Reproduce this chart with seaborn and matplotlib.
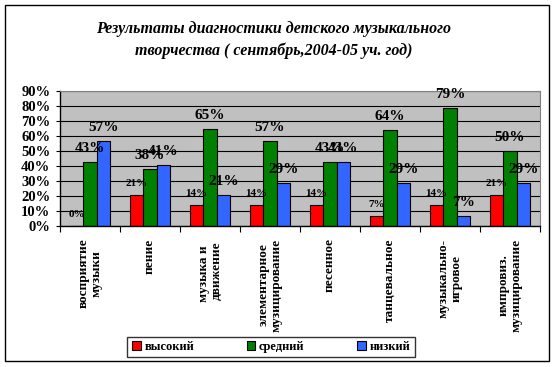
import matplotlib
matplotlib.use("Agg")
import matplotlib.pyplot as plt
import seaborn as sns
import pandas as pd
from matplotlib.patches import Rectangle, Patch
from matplotlib.ticker import FixedLocator, MultipleLocator

categories = ["восприятие\nмузыки", "пение", "музыка и  \nдвижение", "элементарное\nмузицирование",
              "песенное", "танцевальное", "музыкально-\nигровое", "импровиз.\nмузицирование"]
series = ["высокий", "средний", "низкий"]
high = [0, 21, 14, 14, 14, 7, 14, 21]
mid = [43, 38, 65, 57, 43, 64, 79, 50]
low = [57, 41, 21, 29, 43, 29, 7, 29]
colors = ["#FF0000", "#008000", "#3366FF"]
title = "Результаты диагностики детского музыкального\nтворчества ( сентябрь,2004-05 уч. год)"

rows = []
for s, vals in zip(series, [high, mid, low]):
    for c, v in zip(categories, vals):
        rows.append({"cat": c, "series": s, "value": v})
df = pd.DataFrame(rows)

sns.set_theme(style="white")
plt.rcParams['font.family'] = ['Liberation Serif', 'DejaVu Serif']
plt.rcParams['text.color'] = 'black'
plt.rcParams['xtick.color'] = 'black'
plt.rcParams['ytick.color'] = 'black'
plt.rcParams['axes.labelcolor'] = 'black'

fig = plt.figure(figsize=(5.55, 3.67), dpi=100)
ax = fig.add_axes([60/555, 1-226/367, 480/555, 135/367])
ax.set_facecolor("#C0C0C0")

sns.barplot(data=df, x="cat", y="value", hue="series", palette=colors, order=categories,
            hue_order=series, width=0.667, gap=0, edgecolor="black", linewidth=0.8,
            saturation=1, ax=ax, legend=False, errorbar=None)

ax.set_ylim(0, 90)
ax.set_xlim(-0.5, len(categories)-0.5)
ax.yaxis.set_major_locator(MultipleLocator(10))
ax.set_yticklabels([f"{int(t)}%" for t in ax.get_yticks()], fontsize=10.5, fontweight="bold")
ax.grid(axis="y", color="black", linewidth=0.8)
ax.set_axisbelow(True)
ax.set_xlabel("")
ax.set_ylabel("")
ax.tick_params(axis="y", left=True, length=3, width=0.8, color="black", pad=4)
ax.set_xticks(range(len(categories)))
ax.set_xticklabels(categories, rotation=90, fontsize=9.5, fontweight="bold", ha="center",
                   va="top", multialignment="center", linespacing=1.1)
ax.tick_params(axis="x", bottom=False, pad=3)
ax.xaxis.set_minor_locator(FixedLocator([i - 0.5 for i in range(len(categories)+1)]))
ax.tick_params(axis="x", which="minor", bottom=True, length=4, width=0.8, color="black")
for sp in ["top", "right"]:
    ax.spines[sp].set_visible(True)
    ax.spines[sp].set_color("#808080")
    ax.spines[sp].set_linewidth(0.8)
for sp in ["left", "bottom"]:
    ax.spines[sp].set_color("black")
    ax.spines[sp].set_linewidth(1)

for i, cont in enumerate(ax.containers):
    ax.bar_label(cont, labels=[f"{v:.0f}%" for v in cont.datavalues], padding=5,
                 fontsize=8 if i == 0 else 11, fontweight="bold", color="black")

fig.text(274/555, 1-40/367, title, ha="center", va="center", fontsize=11.5,
         fontweight="bold", fontstyle="italic", linespacing=1.4, color="black")

handles = [Patch(facecolor=c, edgecolor="black", linewidth=0.8) for c in colors]
leg = fig.legend(handles, series, loc="center", bbox_to_anchor=(271/555, 1-347/367), ncol=3,
                 frameon=True, fancybox=False, edgecolor="black", handlelength=0.7,
                 handleheight=0.7, handletextpad=0.3, columnspacing=4.2, borderpad=0.35,
                 prop={"family": "Liberation Serif", "weight": "bold", "size": 9})
leg.get_frame().set_linewidth(1)

fig.patches.append(Rectangle((5/555, 1-361/367), 544/555, 356/367, transform=fig.transFigure,
                             fill=False, edgecolor="black", linewidth=1))

fig.savefig("out.png", dpi=100)
